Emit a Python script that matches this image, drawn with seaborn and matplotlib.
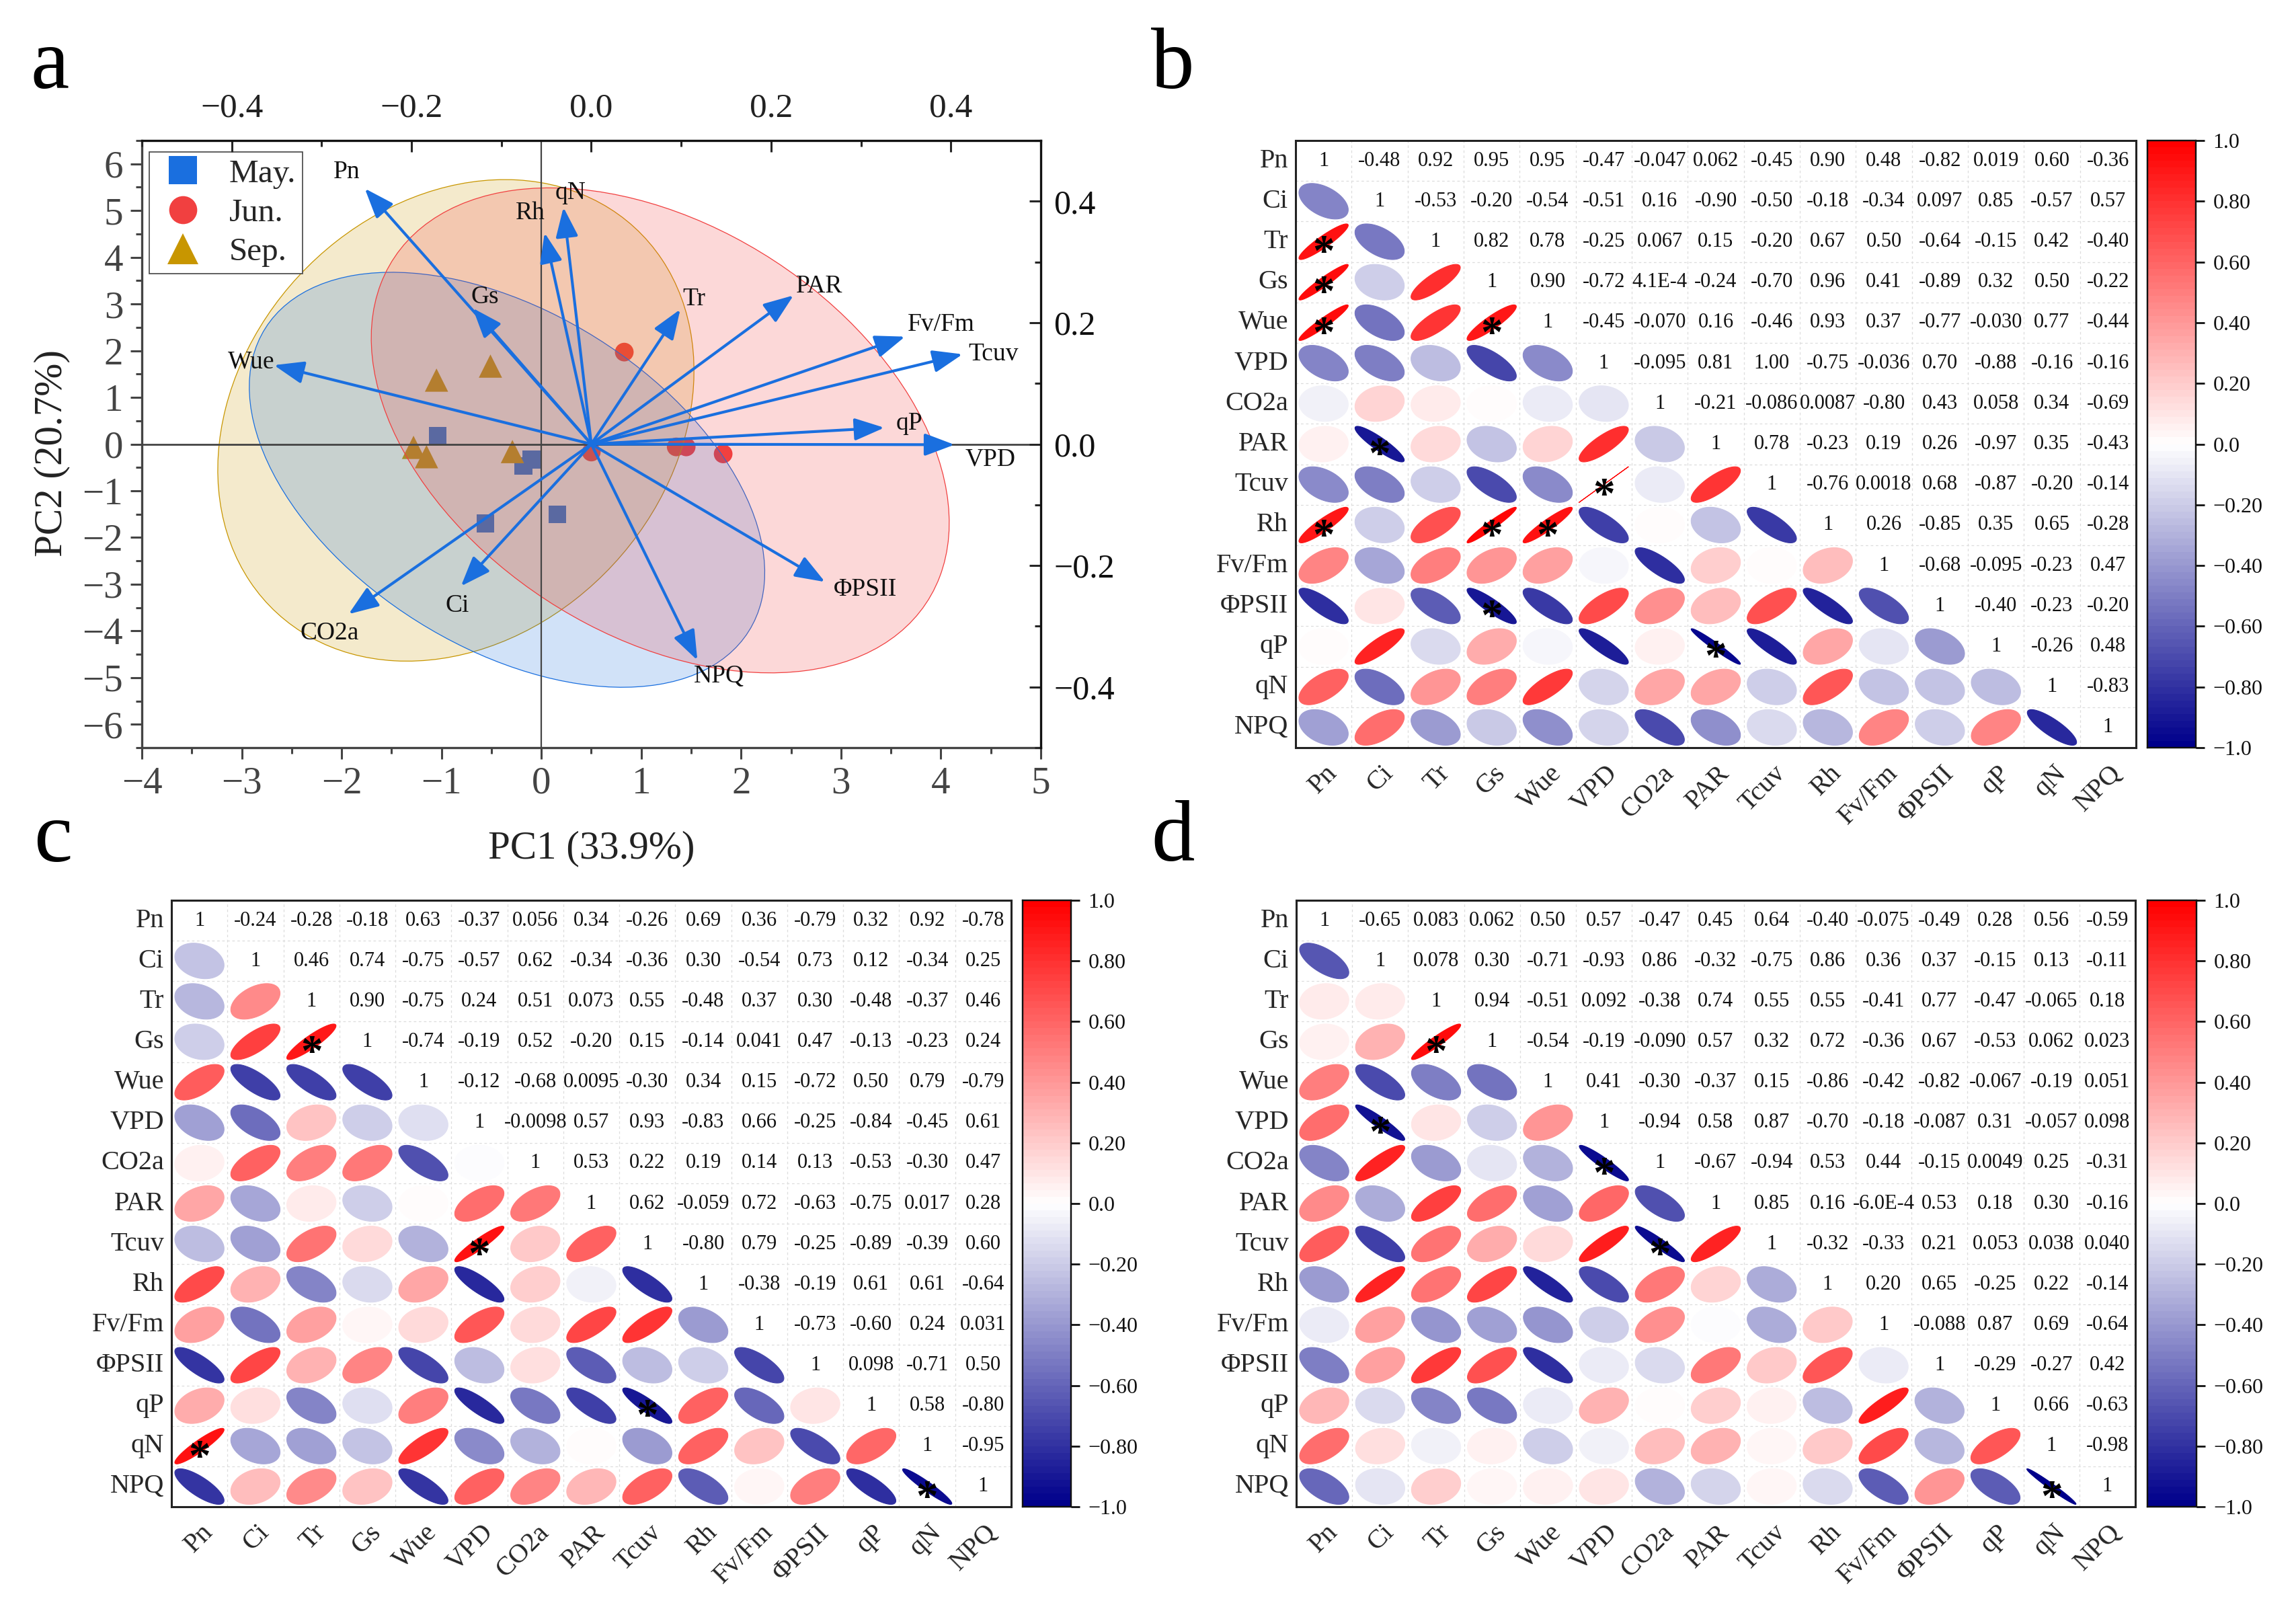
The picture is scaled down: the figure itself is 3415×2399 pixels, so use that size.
"""
PCA biplot and three correlation matrices of photosynthesis traits.
"""

import numpy as np
import pandas as pd
import matplotlib
matplotlib.use("Agg")
import matplotlib.pyplot as plt
import seaborn as sns
from matplotlib.collections import PolyCollection
from matplotlib.colors import LinearSegmentedColormap
from matplotlib.lines import Line2D
from matplotlib.patches import Ellipse
from matplotlib.ticker import MultipleLocator
from matplotlib.transforms import ScaledTranslation

FIG_W = 3416
FIG_H = 2399

TRAITS = ["Pn", "Ci", "Tr", "Gs", "Wue", "VPD", "CO2a", "PAR", "Tcuv", "Rh",
          "Fv/Fm", "ΦPSII", "qP", "qN", "NPQ"]

# PCA scores
MONTHS = ["May.", "Jun.", "Sep."]
MAY_PC1 = [-1.04, -0.10, -0.18, -0.56, 0.16]
MAY_PC2 = [0.18, -0.33, -0.47, -1.70, -1.50]
JUN_PC1 = [0.83, 0.50, 1.35, 1.45, 1.82]
JUN_PC2 = [1.97, -0.17, -0.06, -0.06, -0.21]
SEP_PC1 = [-1.05, -0.51, -1.28, -1.15, -0.29]
SEP_PC2 = [1.37, 1.67, -0.07, -0.27, -0.16]

# PCA loadings, top and right axes
LOAD_X = [-0.252, -0.145, 0.099, -0.132, -0.353, 0.404, -0.270, 0.225, 0.413,
          -0.052, 0.349, 0.260, 0.326, -0.031, 0.118]
LOAD_Y = [0.421, -0.234, 0.222, 0.224, 0.130, -0.001, -0.280, 0.245, 0.148,
          0.348, 0.177, -0.227, 0.027, 0.390, -0.356]

# Upper triangles exactly as printed in the cells
MATRIX_B = [
    "1 -0.48 0.92 0.95 0.95 -0.47 -0.047 0.062 -0.45 0.90 0.48 -0.82 0.019 0.60 -0.36",
    "1 -0.53 -0.20 -0.54 -0.51 0.16 -0.90 -0.50 -0.18 -0.34 0.097 0.85 -0.57 0.57",
    "1 0.82 0.78 -0.25 0.067 0.15 -0.20 0.67 0.50 -0.64 -0.15 0.42 -0.40",
    "1 0.90 -0.72 4.1E-4 -0.24 -0.70 0.96 0.41 -0.89 0.32 0.50 -0.22",
    "1 -0.45 -0.070 0.16 -0.46 0.93 0.37 -0.77 -0.030 0.77 -0.44",
    "1 -0.095 0.81 1.00 -0.75 -0.036 0.70 -0.88 -0.16 -0.16",
    "1 -0.21 -0.086 0.0087 -0.80 0.43 0.058 0.34 -0.69",
    "1 0.78 -0.23 0.19 0.26 -0.97 0.35 -0.43",
    "1 -0.76 0.0018 0.68 -0.87 -0.20 -0.14",
    "1 0.26 -0.85 0.35 0.65 -0.28",
    "1 -0.68 -0.095 -0.23 0.47",
    "1 -0.40 -0.23 -0.20",
    "1 -0.26 0.48",
    "1 -0.83",
    "1",
]
MATRIX_C = [
    "1 -0.24 -0.28 -0.18 0.63 -0.37 0.056 0.34 -0.26 0.69 0.36 -0.79 0.32 0.92 -0.78",
    "1 0.46 0.74 -0.75 -0.57 0.62 -0.34 -0.36 0.30 -0.54 0.73 0.12 -0.34 0.25",
    "1 0.90 -0.75 0.24 0.51 0.073 0.55 -0.48 0.37 0.30 -0.48 -0.37 0.46",
    "1 -0.74 -0.19 0.52 -0.20 0.15 -0.14 0.041 0.47 -0.13 -0.23 0.24",
    "1 -0.12 -0.68 0.0095 -0.30 0.34 0.15 -0.72 0.50 0.79 -0.79",
    "1 -0.0098 0.57 0.93 -0.83 0.66 -0.25 -0.84 -0.45 0.61",
    "1 0.53 0.22 0.19 0.14 0.13 -0.53 -0.30 0.47",
    "1 0.62 -0.059 0.72 -0.63 -0.75 0.017 0.28",
    "1 -0.80 0.79 -0.25 -0.89 -0.39 0.60",
    "1 -0.38 -0.19 0.61 0.61 -0.64",
    "1 -0.73 -0.60 0.24 0.031",
    "1 0.098 -0.71 0.50",
    "1 0.58 -0.80",
    "1 -0.95",
    "1",
]
MATRIX_D = [
    "1 -0.65 0.083 0.062 0.50 0.57 -0.47 0.45 0.64 -0.40 -0.075 -0.49 0.28 0.56 -0.59",
    "1 0.078 0.30 -0.71 -0.93 0.86 -0.32 -0.75 0.86 0.36 0.37 -0.15 0.13 -0.11",
    "1 0.94 -0.51 0.092 -0.38 0.74 0.55 0.55 -0.41 0.77 -0.47 -0.065 0.18",
    "1 -0.54 -0.19 -0.090 0.57 0.32 0.72 -0.36 0.67 -0.53 0.062 0.023",
    "1 0.41 -0.30 -0.37 0.15 -0.86 -0.42 -0.82 -0.067 -0.19 0.051",
    "1 -0.94 0.58 0.87 -0.70 -0.18 -0.087 0.31 -0.057 0.098",
    "1 -0.67 -0.94 0.53 0.44 -0.15 0.0049 0.25 -0.31",
    "1 0.85 0.16 -6.0E-4 0.53 0.18 0.30 -0.16",
    "1 -0.32 -0.33 0.21 0.053 0.038 0.040",
    "1 0.20 0.65 -0.25 0.22 -0.14",
    "1 -0.088 0.87 0.69 -0.64",
    "1 -0.29 -0.27 0.42",
    "1 0.66 -0.63",
    "1 -0.98",
    "1",
]

CBAR_TICKS = [-1.0, -0.8, -0.6, -0.4, -0.2, 0.0, 0.2, 0.4, 0.6, 0.8, 1.0]
CBAR_LABELS = ["−1.0", "−0.80", "−0.60", "−0.40", "−0.20", "0.0",
               "0.20", "0.40", "0.60", "0.80", "1.0"]

# where the loading names sit, in loading units
LABEL_POS = {
    "Pn": (-0.272, 0.448), "Rh": (-0.068, 0.381), "qN": (-0.023, 0.414),
    "Gs": (-0.118, 0.242), "Tr": (0.114, 0.239), "PAR": (0.254, 0.260),
    "Fv/Fm": (0.389, 0.197), "Tcuv": (0.447, 0.148), "qP": (0.354, 0.034),
    "VPD": (0.444, -0.025), "ΦPSII": (0.305, -0.239), "NPQ": (0.142, -0.382),
    "Ci": (-0.149, -0.266), "CO2a": (-0.291, -0.311), "Wue": (-0.378, 0.135),
}

BLUE = "#1a6fdf"
RED = "#f14040"
GOLD = "#c89600"
GRAY = "#444444"
F_95 = 9.55  # F(0.95; 2, 3), five samples per month
STAR_LIMIT = 0.885

CMAP = LinearSegmentedColormap.from_list(
    "blue_white_red", ["#00008b", "#ffffff", "#ff0000"], N=90
)


def px_rect(left, top, right, bottom):
    """
    Axes rectangle from pixel edges of the picture.
    """
    return [left / FIG_W, 1 - bottom / FIG_H,
            (right - left) / FIG_W, (bottom - top) / FIG_H]


def confidence_ellipse(ax, x, y, color):
    """
    95% prediction ellipse of one month.
    """
    x = np.array(x)
    y = np.array(y)
    n = len(x)
    vals, vecs = np.linalg.eigh(np.cov(x, y))
    scale = np.sqrt(2 * (n - 1) * (n + 1) / (n * (n - 2)) * F_95)
    angle = np.degrees(np.arctan2(vecs[1, 1], vecs[0, 1]))
    ax.add_patch(Ellipse(
        (x.mean(), y.mean()),
        2 * scale * np.sqrt(vals[1]),
        2 * scale * np.sqrt(vals[0]),
        angle=angle,
        facecolor=matplotlib.colors.to_rgba(color, 0.2),
        edgecolor=color,
        linewidth=0.9,
        zorder=2,
    ))


def biplot(fig):
    """
    Panel a.
    """
    rect = px_rect(211, 209, 1548, 1112)
    ax = fig.add_axes(rect)

    scores = pd.DataFrame({
        "PC1": MAY_PC1 + JUN_PC1 + SEP_PC1,
        "PC2": MAY_PC2 + JUN_PC2 + SEP_PC2,
        "month": [m for m in MONTHS for _ in range(5)],
    })
    sns.scatterplot(
        data=scores, x="PC1", y="PC2", hue="month", style="month", size="month",
        palette=dict(zip(MONTHS, [BLUE, RED, GOLD])),
        markers=dict(zip(MONTHS, ["s", "o", "^"])),
        sizes=dict(zip(MONTHS, [360, 400, 620])),
        linewidth=0, legend=False, ax=ax, zorder=1,
    )
    confidence_ellipse(ax, SEP_PC1, SEP_PC2, GOLD)
    confidence_ellipse(ax, MAY_PC1, MAY_PC2, BLUE)
    confidence_ellipse(ax, JUN_PC1, JUN_PC2, RED)

    ax.axhline(0, color=GRAY, lw=2.0, zorder=3)
    ax.axvline(0, color=GRAY, lw=1.6, zorder=3)
    ax.set_xlim(-4, 5)
    ax.set_ylim(-6.5, 6.5)
    ax.xaxis.set_major_locator(MultipleLocator(1))
    ax.xaxis.set_minor_locator(MultipleLocator(0.5))
    ax.yaxis.set_major_locator(MultipleLocator(1))
    ax.yaxis.set_minor_locator(MultipleLocator(0.5))
    ax.tick_params(which="major", direction="out", length=12, width=2.2,
                   color=GRAY, labelcolor=GRAY, labelsize=41, pad=8,
                   bottom=True, left=True)
    ax.tick_params(which="minor", direction="out", length=6.5, width=2.2,
                   color=GRAY, bottom=True, left=True)
    ax.set_xlabel("PC1 (33.9%)", fontsize=42.5)
    ax.set_ylabel("PC2 (20.7%)", fontsize=42.5)
    ax.xaxis.set_label_coords(0.5, -0.137)
    ax.yaxis.set_label_coords(-0.08, 0.485)
    for side in ["left", "bottom"]:
        ax.spines[side].set_color(GRAY)
        ax.spines[side].set_linewidth(2.4)
    for side in ["top", "right"]:
        ax.spines[side].set_visible(False)

    handles = [
        Line2D([], [], ls="", marker="s", ms=30, mew=0, color=BLUE, label="May."),
        Line2D([], [], ls="", marker="o", ms=30, mew=0, color=RED, label="Jun."),
        Line2D([], [], ls="", marker="^", ms=33, mew=0, color=GOLD, label="Sep."),
    ]
    legend = ax.legend(
        handles=handles, loc="upper left", bbox_to_anchor=(0.0085, 0.981),
        fontsize=35.5, frameon=True, fancybox=False, framealpha=1,
        edgecolor=GRAY, borderpad=0.2, labelspacing=0.28,
        handletextpad=0.6, handlelength=1.6, borderaxespad=0,
    )
    legend.get_frame().set_linewidth(1.2)
    legend.set_zorder(6)

    load_ax = fig.add_axes(rect, frameon=True, zorder=2)
    load_ax.patch.set_visible(False)
    load_ax.set_xlim(-0.5, 0.5)
    load_ax.set_ylim(-0.5, 0.5)
    load_ax.xaxis.tick_top()
    load_ax.yaxis.tick_right()
    load_ax.xaxis.set_major_locator(MultipleLocator(0.2))
    load_ax.xaxis.set_minor_locator(MultipleLocator(0.1))
    load_ax.yaxis.set_major_locator(MultipleLocator(0.2))
    load_ax.yaxis.set_minor_locator(MultipleLocator(0.1))
    load_ax.tick_params(which="major", direction="in", length=12, width=2.2,
                        top=True, right=True, bottom=False, left=False)
    load_ax.tick_params(which="minor", direction="in", length=6.5, width=2.2,
                        top=True, right=True, bottom=False, left=False)
    load_ax.tick_params(axis="x", which="major", labelsize=37, pad=18,
                        labelcolor="#222222")
    load_ax.tick_params(axis="y", which="major", labelsize=36, pad=14,
                        labelcolor="#111111")
    for side in ["top", "right"]:
        load_ax.spines[side].set_color("#111111")
        load_ax.spines[side].set_linewidth(2.4)
    for side in ["left", "bottom"]:
        load_ax.spines[side].set_visible(False)

    for name, lx, ly in zip(TRAITS, LOAD_X, LOAD_Y):
        load_ax.annotate(
            "", xy=(lx, ly), xytext=(0, 0),
            arrowprops=dict(
                arrowstyle="-|>,head_length=0.85,head_width=0.32",
                mutation_scale=32, color=BLUE, lw=3.0,
                shrinkA=0, shrinkB=0,
            ),
            zorder=4,
        )
        tx, ty = LABEL_POS[name]
        load_ax.text(tx, ty, name, ha="center", va="center", fontsize=27,
                     color="#111111", zorder=5)


def read_matrix(rows):
    """
    Build the symmetric value matrix and the cell texts.
    """
    n = len(rows)
    values = np.ones((n, n))
    texts = {}
    for i, row in enumerate(rows):
        for j, item in enumerate(row.split()):
            values[i, i + j] = float(item)
            values[i + j, i] = float(item)
            texts[(i, i + j)] = item
    return values, texts


def ellipse_outline(col, row, r):
    """
    Correlation ellipse inside one cell.
    """
    t = np.linspace(0, 2 * np.pi, 120)
    d = np.arccos(np.clip(r, -1, 1))
    x = col + 0.5 + 0.44 * np.cos(t + d / 2)
    y = row + 0.5 - 0.44 * np.cos(t - d / 2)
    return np.column_stack([x, y])


def correlation_panel(fig, rows, rect_px, cbar_px):
    """
    One of the panels b, c and d.
    """
    values, texts = read_matrix(rows)
    n = len(TRAITS)
    ax = fig.add_axes(px_rect(*rect_px))
    cax = fig.add_axes(px_rect(*cbar_px))

    sns.heatmap(
        pd.DataFrame(values, index=TRAITS, columns=TRAITS),
        mask=np.ones_like(values, dtype=bool),
        vmin=-1, vmax=1, cmap=CMAP, square=False,
        xticklabels=True, yticklabels=True,
        cbar_ax=cax, cbar_kws={"ticks": CBAR_TICKS}, ax=ax,
    )

    ax.set_xticks(np.arange(1, n), minor=True)
    ax.set_yticks(np.arange(1, n), minor=True)
    ax.grid(which="minor", color="#dddddd", lw=0.9, ls=(0, (3, 3)))
    ax.set_axisbelow(True)
    ax.tick_params(which="both", length=0)
    for spine in ax.spines.values():
        spine.set_visible(True)
        spine.set_color("#222222")
        spine.set_linewidth(2.2)

    ax.tick_params(axis="y", labelsize=29, pad=8, labelrotation=0)
    shift = ScaledTranslation(28 / 100, 0, fig.dpi_scale_trans)
    ax.tick_params(axis="x", labelsize=29, pad=14)
    for label in ax.get_xticklabels():
        label.set_rotation(45)
        label.set_ha("right")
        label.set_va("top")
        label.set_transform(label.get_transform() + shift)

    verts = []
    colors = []
    for i in range(n):
        for j in range(i):
            verts.append(ellipse_outline(j, i, values[i, j]))
            colors.append(values[i, j])
    ax.add_collection(PolyCollection(
        verts, array=np.array(colors), cmap=CMAP, clim=(-1, 1),
        edgecolors="face", linewidths=0.8, zorder=3,
    ))

    for (i, j), item in texts.items():
        ax.text(j + 0.5, i + 0.5, item, ha="center", va="center",
                fontsize=22, color="#111111", zorder=4)

    for i in range(n):
        for j in range(i):
            if abs(values[i, j]) >= STAR_LIMIT:
                ax.annotate("*", xy=(j + 0.5, i + 0.5), xytext=(0, -13.5),
                            textcoords="offset points", ha="center",
                            va="center", fontsize=47, fontweight="bold",
                            color="black", zorder=5)

    cax.set_yticks(CBAR_TICKS)
    cax.set_yticklabels(CBAR_LABELS)
    cax.tick_params(axis="y", length=9.5, width=2.0, labelsize=23, pad=9,
                    color="#111111", labelcolor="#111111", right=True)
    cax.set_frame_on(True)
    for spine in cax.spines.values():
        spine.set_visible(True)
        spine.set_color("#111111")
        spine.set_linewidth(1.6)


if __name__ == "__main__":

    sns.set_theme(style="white")
    plt.rcParams["font.family"] = ["Liberation Serif", "DejaVu Serif"]
    plt.rcParams["axes.unicode_minus"] = True
    plt.rcParams["axes.labelcolor"] = "#222222"

    fig = plt.figure(figsize=(FIG_W / 100, FIG_H / 100), dpi=100)

    biplot(fig)
    correlation_panel(fig, MATRIX_B, (1927, 209, 3177, 1112), (3194, 209, 3266, 1112))
    correlation_panel(fig, MATRIX_C, (255, 1339, 1504, 2241), (1521, 1339, 1593, 2241))
    correlation_panel(fig, MATRIX_D, (1928, 1339, 3176, 2241), (3194, 1339, 3267, 2241))

    for letter, x, y in [("a", 45, 131), ("b", 1712, 131), ("c", 50, 1281), ("d", 1712, 1280)]:
        fig.text(x / FIG_W, 1 - y / FIG_H, letter, fontsize=93,
                 ha="left", va="baseline", color="black")

    fig.savefig("out.png", dpi=100, facecolor="white")
